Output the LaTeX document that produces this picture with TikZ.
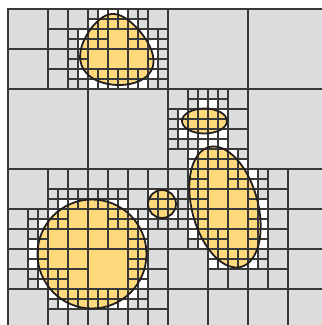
\documentclass[tikz,border=0pt]{standalone}
\definecolor{cellgrey}{HTML}{DCDDDF}
\definecolor{blob}{HTML}{FFD97C}
\definecolor{gridc}{HTML}{383838}
\definecolor{outl}{HTML}{231F20}
\tikzset{
  gridcell/.style={draw=gridc, line width=1.15pt},
  bndcell/.style={fill=white},
  blobfill/.style={fill=blob},
  blobline/.style={draw=outl, line width=1.8pt},
}
\newcount\qcnt
\newcount\qtc
\newcount\qtd
\def\qX{(8+10*\qi+\qu)}
\def\qY{(9+10*\qj+\qv)}
\def\shpBig{((\qX-92)^2+(\qY-254)^2)/(54.5^2)}
\def\shpSmall{((\qX-162)^2+(\qY-204)^2)/(14^2)}
\def\shpEll{((\qX-204.5)/22.5)^2+((\qY-121)/12.5)^2}
\def\shpTilt{((0.2588*(\qX-225)+0.9659*(\qY-207))/62)^2+((0.9659*(\qX-225)-0.2588*(\qY-207))/33)^2}
\def\shpEgg{((\qX-116-3*(\qY-49.5)/35.5)/(35.1+10.8*(\qY-49.5)/35.5))^2+((\qY-49.5)/35.5)^2}
\def\qmarkup#1#2#3#4{%
  \qtc=#3 \divide\qtc by #2 \qtd=#4 \divide\qtd by #2
  \expandafter\gdef\csname qS@#1@\the\qtc @\the\qtd\endcsname{}}
\def\qmark#1#2{%
  \expandafter\gdef\csname qB@#1@#2\endcsname{}%
  \qmarkup{1}{2}{#1}{#2}\qmarkup{2}{4}{#1}{#2}%
  \qmarkup{3}{8}{#1}{#2}\qmarkup{4}{16}{#1}{#2}%
  \qmarkup{5}{32}{#1}{#2}}
\def\qtest#1#2#3#4#5{%
  \foreach \qi in {#2,...,#3}{%
    \foreach \qj in {#4,...,#5}{%
      \global\qcnt=0
      \foreach \qu in {0.2,2.6,5,7.4,9.8}{%
        \foreach \qv in {0.2,2.6,5,7.4,9.8}{%
          \global\advance\qcnt by \fpeval{(#1)<1}\relax}}%
      \ifnum\qcnt>0 \ifnum\qcnt<25 \qmark{\qi}{\qj}\fi\fi}}}
\def\qsz#1{\ifcase#1 10\or20\or40\or80\or160\or320\fi}
\def\qdraw#1#2#3{%
  \ifnum#1=0
    \qleaf{#1}{#2}{#3}%
  \else
    \ifcsname qS@#1@#2@#3\endcsname
      \edef\qtmp{\noexpand\qkids{\the\numexpr#1-1}{\the\numexpr2*#2}{\the\numexpr2*#3}}%
      \qtmp
    \else
      \qleaf{#1}{#2}{#3}%
    \fi
  \fi}
\def\qkids#1#2#3{%
  \edef\qtmpk{%
    \noexpand\qdraw{#1}{#2}{#3}%
    \noexpand\qdraw{#1}{\the\numexpr#2+1}{#3}%
    \noexpand\qdraw{#1}{#2}{\the\numexpr#3+1}%
    \noexpand\qdraw{#1}{\the\numexpr#2+1}{\the\numexpr#3+1}}%
  \qtmpk}
\def\qleafgrid#1#2#3{%
  \edef\qs{\qsz{#1}}%
  \edef\qx{\the\numexpr8+#2*\qs}\edef\qy{\the\numexpr9+#3*\qs}%
  \path[gridcell] (\qx,\qy) rectangle ++(\qs,\qs);}
\def\qleafwhite#1#2#3{%
  \ifnum#1=0
    \ifcsname qB@#2@#3\endcsname
      \edef\qx{\the\numexpr8+10*#2}\edef\qy{\the\numexpr9+10*#3}%
      \path[bndcell] (\qx,\qy) rectangle ++(10,10);%
    \fi
  \fi}
\qtest{\shpBig}{2}{14}{18}{30}
\qtest{\shpSmall}{13}{17}{17}{21}
\qtest{\shpEll}{16}{22}{9}{13}
\qtest{\shpTilt}{17}{26}{13}{26}
\qtest{\shpEgg}{6}{15}{0}{8}
\begin{document}
\begin{tikzpicture}[x=1pt,y=-1pt]
\useasboundingbox (0,0) rectangle (322,325);
\clip (0,0) rectangle (322,325);
\fill[cellgrey] (8,9) rectangle (328,329);
\let\qleaf\qleafwhite
\qdraw{5}{0}{0}%
\path[blobfill] (92,254) circle[radius=54.5];
\path[blobfill] (162,204) circle[radius=14];
\path[blobfill] (204.5,121) ellipse[x radius=22.5,y radius=12.5];
\path[blobfill] plot[smooth cycle,domain=0:356,samples=90,variable=\t] ({225+31.875*cos(\t)+16.046*sin(\t)},{207-8.54*cos(\t)+59.886*sin(\t)});
\path[blobfill] plot[smooth cycle,domain=0:356,samples=90,variable=\t] ({116-3*cos(\t)+(35.1-10.8*cos(\t))*sin(\t)},{49.5-35.5*cos(\t)});
\let\qleaf\qleafgrid
\qdraw{5}{0}{0}%
\path[blobline] (92,254) circle[radius=54.5];
\path[blobline] (162,204) circle[radius=14];
\path[blobline] (204.5,121) ellipse[x radius=22.5,y radius=12.5];
\path[blobline] plot[smooth cycle,domain=0:356,samples=90,variable=\t] ({225+31.875*cos(\t)+16.046*sin(\t)},{207-8.54*cos(\t)+59.886*sin(\t)});
\path[blobline] plot[smooth cycle,domain=0:356,samples=90,variable=\t] ({116-3*cos(\t)+(35.1-10.8*cos(\t))*sin(\t)},{49.5-35.5*cos(\t)});
\end{tikzpicture}
\end{document}
